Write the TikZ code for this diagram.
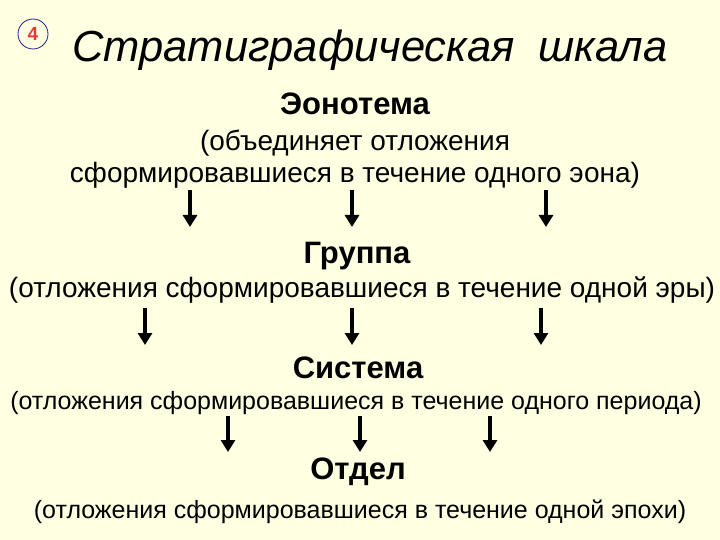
\documentclass[tikz,border=0pt]{standalone}
\usepackage{fontspec}
\setmainfont{Liberation Sans}
\usetikzlibrary{arrows.meta}
\begin{document}
\begin{tikzpicture}[x=1pt,y=-1pt,
 lbl/.style={inner sep=0pt,anchor=center},
 arr/.style={line width=4pt,-{Triangle[width=14pt,length=12pt]}}]
\fill[fill={rgb,255:red,255;green,255;blue,225}] (0,0) rectangle (720,540);
\node[draw={rgb,255:red,30;green,30;blue,140},circle,minimum size=30pt,inner sep=0pt,line width=0.8pt,text={rgb,255:red,220;green,60;blue,60},font=\fontsize{19}{19}\selectfont\bfseries] (n) at (33,34) {4};
\node[lbl,font=\fontsize{43.5}{48}\selectfont\itshape] (t) at (370,50) {Стратиграфическая\ \ шкала};
\node[lbl,font=\fontsize{31}{34}\selectfont\bfseries] (a) at (355,104) {Эонотема};
\node[lbl,font=\fontsize{28}{32}\selectfont] (a1) at (355,143) {(объединяет отложения};
\node[lbl,font=\fontsize{28}{32}\selectfont] (a2) at (355,175) {сформировавшиеся в течение одного эона)};
\node[lbl,font=\fontsize{31}{34}\selectfont\bfseries] (b) at (357,256) {Группа};
\node[lbl,font=\fontsize{28}{32}\selectfont] (b1) at (362,290) {(отложения сформировавшиеся в течение одной эры)};
\node[lbl,font=\fontsize{31}{34}\selectfont\bfseries] (c) at (358,368) {Система};
\node[lbl,font=\fontsize{25}{28}\selectfont] (c1) at (356,403) {(отложения сформировавшиеся в течение одного периода)};
\node[lbl,font=\fontsize{31}{34}\selectfont\bfseries] (d) at (358,472) {Отдел};
\node[lbl,font=\fontsize{25}{28}\selectfont] (d1) at (360,512) {(отложения сформировавшиеся в течение одной эпохи)};
\coordinate (p1) at (190,190); \coordinate (q1) at (190,227);
\coordinate (p2) at (352,190); \coordinate (q2) at (352,227);
\coordinate (p3) at (546,190); \coordinate (q3) at (546,227);
\coordinate (p4) at (145,308); \coordinate (q4) at (145,345);
\coordinate (p5) at (352,308); \coordinate (q5) at (352,345);
\coordinate (p6) at (541,308); \coordinate (q6) at (541,345);
\coordinate (p7) at (228,416); \coordinate (q7) at (228,452);
\coordinate (p8) at (360,416); \coordinate (q8) at (360,452);
\coordinate (p9) at (490,416); \coordinate (q9) at (490,452);
\foreach \i in {1,...,9} \draw[arr] (p\i) -- (q\i);
\end{tikzpicture}
\end{document}
